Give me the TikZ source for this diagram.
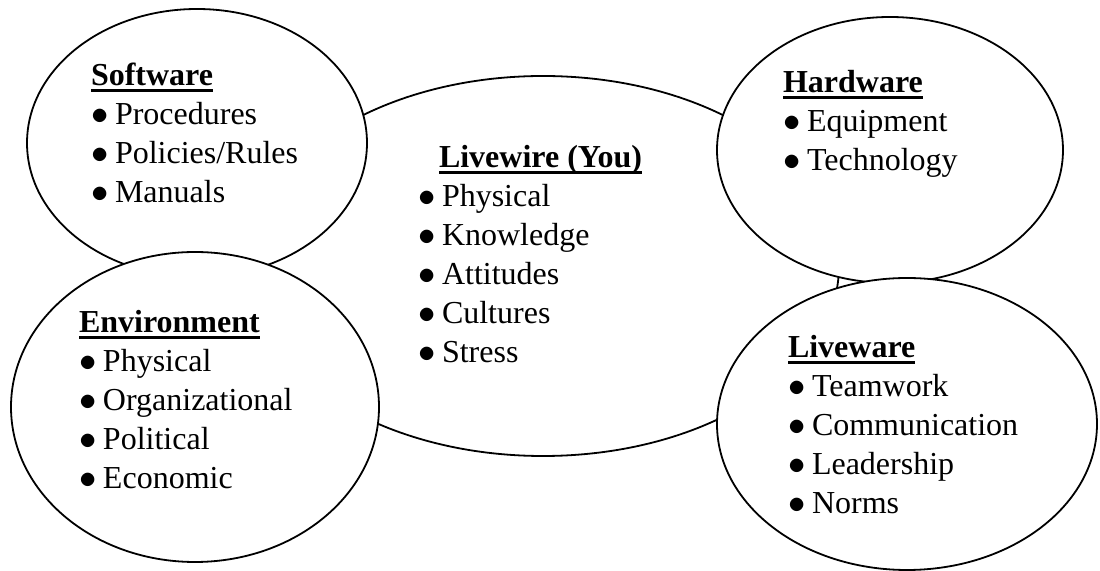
\documentclass[tikz,border=0pt]{standalone}
\usepackage{fontspec}
\setmainfont{Liberation Serif}
\usetikzlibrary{shapes.geometric}
\newsavebox\ulbox
\newcommand\ulx[1]{\sbox\ulbox{\bfseries #1}\rlap{\rule[-3pt]{\wd\ulbox}{1.6pt}}\usebox\ulbox}
\newcommand\itm[1]{\hbox{\makebox[12pt][l]{$\bullet$}#1}}
\newcommand\ttl[2][0pt]{\hbox{\hspace{#1}\ulx{#2}}}
\begin{document}
\begin{tikzpicture}[x=0.5pt, y=-0.5pt, line width=0.9pt,
  ell/.style={ellipse, draw=black, fill=white, inner sep=0pt, outer sep=0pt},
  lst/.style={anchor=base west, inner sep=0pt, outer sep=0pt, font=\fontsize{16}{19.5}\selectfont}]
\fill[white] (0,0) rectangle (1100,571);
\useasboundingbox (0,0) rectangle (1100,571);
% ellipses (drawing order matters for overlaps)
\node[ell, minimum width=296pt, minimum height=190pt] (live) at (543,266) {};
\node[ell, minimum width=170pt, minimum height=134pt] (soft) at (197,143) {};
\node[ell, minimum width=184pt, minimum height=155pt] (env)  at (195,407) {};
\node[ell, minimum width=173pt, minimum height=133pt] (hard) at (890,150) {};
\node[ell, minimum width=190pt, minimum height=146pt] (lw)   at (907,424) {};
% texts
\node[lst] (softT) at (91,86) {\vtop{\ttl{Software}\itm{Procedures}\itm{Policies/Rules}\itm{Manuals}}};
\node[lst] (hardT) at (783,93) {\vtop{\ttl{Hardware}\itm{Equipment}\itm{Technology}}};
\node[lst] (liveT) at (418,168) {\vtop{\ttl[10.5pt]{Livewire (You)}\itm{Physical}\itm{Knowledge}\itm{Attitudes}\itm{Cultures}\itm{Stress}}};
\node[lst] (envT) at (79,333) {\vtop{\ttl{Environment}\itm{Physical}\itm{Organizational}\itm{Political}\itm{Economic}}};
\node[lst] (lwT) at (788,358) {\vtop{\ttl{Liveware}\itm{Teamwork}\itm{Communication}\itm{Leadership}\itm{Norms}}};
\end{tikzpicture}
\end{document}
